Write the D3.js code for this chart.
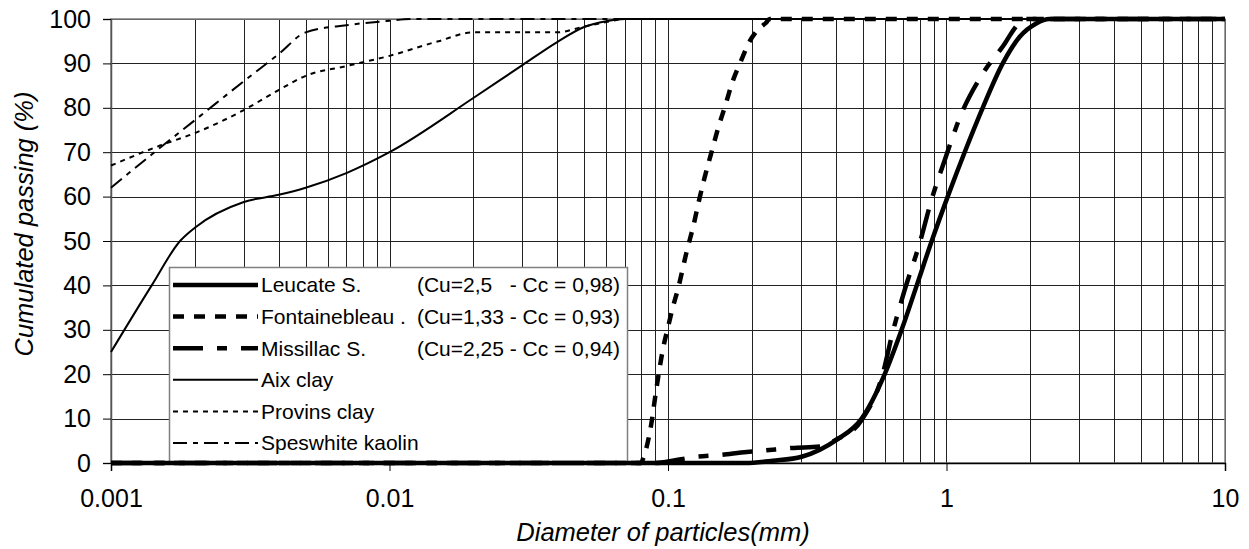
<!DOCTYPE html>
<html>
<head>
<meta charset="utf-8">
<script src="https://cdn.jsdelivr.net/npm/d3@7"></script>
<style>
body { margin: 0; background: #fff; }
text { font-family: Arial, "Liberation Sans", sans-serif; fill: #000; }
</style>
</head>
<body>
<div id="vis"></div>
<script>
//tick values and labels
var xTickValues = [0.001, 0.01, 0.1, 1, 10];
var xTickLabels = ["0.001", "0.01", "0.1", "1", "10"];
var yTickValues = [0, 10, 20, 30, 40, 50, 60, 70, 80, 90, 100];

//series (diameter in mm, cumulated passing in %)
var leucateD = [0.001, 0.19, 0.238, 0.302, 0.403, 0.496, 0.6, 0.69, 0.782, 0.885, 1.01, 1.162, 1.349, 1.592, 1.832, 2.1, 2.34, 10];
var leucateP = [0, 0, 0.5, 1.4, 5.2, 10, 20, 30, 40, 50, 60, 70, 80, 90, 96, 99, 100, 100];

var fontD = [0.001, 0.08, 0.0814, 0.0865, 0.0909, 0.096, 0.1001, 0.1038, 0.1087, 0.1171, 0.1231, 0.129, 0.1356, 0.1424, 0.1513, 0.1609, 0.1699, 0.1835, 0.1966, 0.2078, 0.2244, 0.232, 10];
var fontP = [0, 0, 1, 7.7, 16.8, 25.8, 30.7, 34.8, 39.3, 48, 53.2, 58.9, 64.5, 69.4, 75.4, 80.7, 85.6, 90.8, 95, 97.2, 99.1, 100, 100];

var missD = [0.001, 0.09, 0.099, 0.127, 0.153, 0.192, 0.22, 0.279, 0.35, 0.4, 0.496, 0.59, 0.64, 0.708, 0.801, 0.883, 0.985, 1.146, 1.245, 1.352, 1.62, 1.757, 1.9, 10];
var missP = [0, 0, 0.3, 1.4, 1.8, 2.5, 2.8, 3.4, 3.7, 5.2, 9.7, 20, 29.3, 39, 49.5, 59.2, 68.2, 79.5, 84, 87.8, 94.5, 97.9, 100, 100];

var aixD = [0.001, 0.0014, 0.00177, 0.002, 0.003, 0.004, 0.005, 0.007, 0.01, 0.02, 0.03, 0.04, 0.05, 0.06, 0.07, 10];
var aixP = [25, 40, 50, 53, 58.8, 60.4, 62, 65.3, 70, 82.2, 89.6, 94.8, 98.2, 99.5, 100, 100];

var provinsD = [0.001, 0.0015, 0.002, 0.003, 0.004, 0.005, 0.007, 0.01, 0.015, 0.02, 0.04, 0.05, 0.06, 0.07, 10];
var provinsP = [67, 71.5, 74.3, 79.5, 84, 87.2, 89.4, 91.7, 95, 97, 97, 98.3, 99.3, 100, 100];

var kaolinD = [0.001, 0.0015, 0.002, 0.003, 0.004, 0.005, 0.007, 0.01, 0.012, 10];
var kaolinP = [62, 71, 77.2, 86, 92.1, 97, 98.6, 99.6, 100, 100];

//legend texts
var seriesNames = ["Leucate S.", "Fontainebleau .", "Missillac S.", "Aix clay", "Provins clay", "Speswhite kaolin"];
var seriesCoef = ["(Cu=2,5   - Cc = 0,98)", "(Cu=1,33 - Cc = 0,93)", "(Cu=2,25 - Cc = 0,94)", "", "", ""];

//line styles
var styles = [
    { width: 4.5, dash: null },
    { width: 4.5, dash: "11,10" },
    { width: 4.5, dash: "30,14,10,14" },
    { width: 2, dash: null },
    { width: 2, dash: "5,5" },
    { width: 2, dash: "14,6,5,6" }
];

var seriesData = [
    [leucateD, leucateP],
    [fontD, fontP],
    [missD, missP],
    [aixD, aixP],
    [provinsD, provinsP],
    [kaolinD, kaolinP]
];

var width = 1249, height = 549;
var margin = { top: 19, right: 24, bottom: 86, left: 111 };

var svg = d3.select("#vis").append("svg").attr("width", width).attr("height", height);

var x = d3.scaleLog().domain([0.001, 10]).range([margin.left, width - margin.right]);
var y = d3.scaleLinear().domain([0, 100]).range([height - margin.bottom, margin.top]);

//grid
var grid = svg.append("g").attr("shape-rendering", "crispEdges");
grid.selectAll("line.v")
    .data(x.ticks())
    .enter().append("line")
    .attr("class", "v")
    .attr("x1", d => Math.round(x(d)) + 0.5).attr("x2", d => Math.round(x(d)) + 0.5)
    .attr("y1", y(0)).attr("y2", y(100))
    .attr("stroke", "#222").attr("stroke-width", 1);
grid.selectAll("line.h")
    .data(yTickValues)
    .enter().append("line")
    .attr("class", "h")
    .attr("x1", x(0.001)).attr("x2", x(10))
    .attr("y1", d => Math.round(y(d)) + 0.5).attr("y2", d => Math.round(y(d)) + 0.5)
    .attr("stroke", "#222").attr("stroke-width", 1);

//frame
svg.append("rect")
    .attr("x", x(0.001)).attr("y", y(100))
    .attr("width", x(10) - x(0.001)).attr("height", y(0) - y(100))
    .attr("fill", "none").attr("stroke", "#808080").attr("stroke-width", 1.5);

//axes
var xAxis = d3.axisBottom(x).tickValues(xTickValues).tickSize(8).tickPadding(18)
    .tickFormat((d, i) => xTickLabels[i]);
var gx = svg.append("g").attr("transform", "translate(0," + y(0) + ")").call(xAxis);
gx.select(".domain").attr("stroke", "#000").attr("stroke-width", 1.5);
gx.selectAll("text").style("font-size", "25px").attr("font-family", null);

var yAxis = d3.axisLeft(y).tickValues(yTickValues).tickSize(8).tickPadding(12);
var gy = svg.append("g").attr("transform", "translate(" + x(0.001) + ",0)").call(yAxis);
gy.select(".domain").attr("stroke", "#555").attr("stroke-width", 1.5);
gy.selectAll("text").style("font-size", "25px").attr("font-family", null);

//axis titles
svg.append("text")
    .attr("x", 663).attr("y", 541)
    .attr("text-anchor", "middle")
    .style("font-size", "25.5px").style("font-style", "italic")
    .text("Diameter of particles(mm)");
svg.append("text")
    .attr("transform", "translate(33,224) rotate(-90)")
    .attr("text-anchor", "middle")
    .style("font-size", "25.5px").style("font-style", "italic")
    .text("Cumulated passing (%)");

//legend box
var legend = svg.append("g");
legend.append("rect")
    .attr("x", 169.5).attr("y", 267.5).attr("width", 458).attr("height", y(0) - 267.5)
    .attr("fill", "#fff").attr("stroke", "#808080").attr("stroke-width", 1.5);

//curves
var line = d3.line()
    .x(d => x(d[0]))
    .y(d => y(d[1]))
    .curve(d3.curveMonotoneX);

svg.append("g")
    .selectAll("path")
    .data(seriesData)
    .enter().append("path")
    .attr("d", function (s) {
        return line(s[0].map((d, i) => [d, s[1][i]]));
    })
    .attr("fill", "none")
    .attr("stroke", "#000")
    .attr("stroke-width", (s, i) => styles[i].width)
    .attr("stroke-dasharray", (s, i) => styles[i].dash);

//legend entries
var rowY = 285, rowStep = 31.6;
var rows = legend.selectAll("g.row")
    .data(seriesNames)
    .enter().append("g")
    .attr("class", "row")
    .attr("transform", (d, i) => "translate(0," + (rowY + i * rowStep) + ")");
rows.append("line")
    .attr("x1", 173).attr("x2", 258)
    .attr("stroke", "#000")
    .attr("stroke-width", (d, i) => styles[i].width)
    .attr("stroke-dasharray", (d, i) => styles[i].dash);
rows.append("text")
    .attr("x", 261).attr("dy", "0.35em")
    .style("font-size", "21px")
    .text(d => d);
rows.append("text")
    .attr("x", 620).attr("dy", "0.35em")
    .attr("text-anchor", "end")
    .style("font-size", "21px").style("white-space", "pre")
    .text((d, i) => seriesCoef[i]);
</script>
</body>
</html>
